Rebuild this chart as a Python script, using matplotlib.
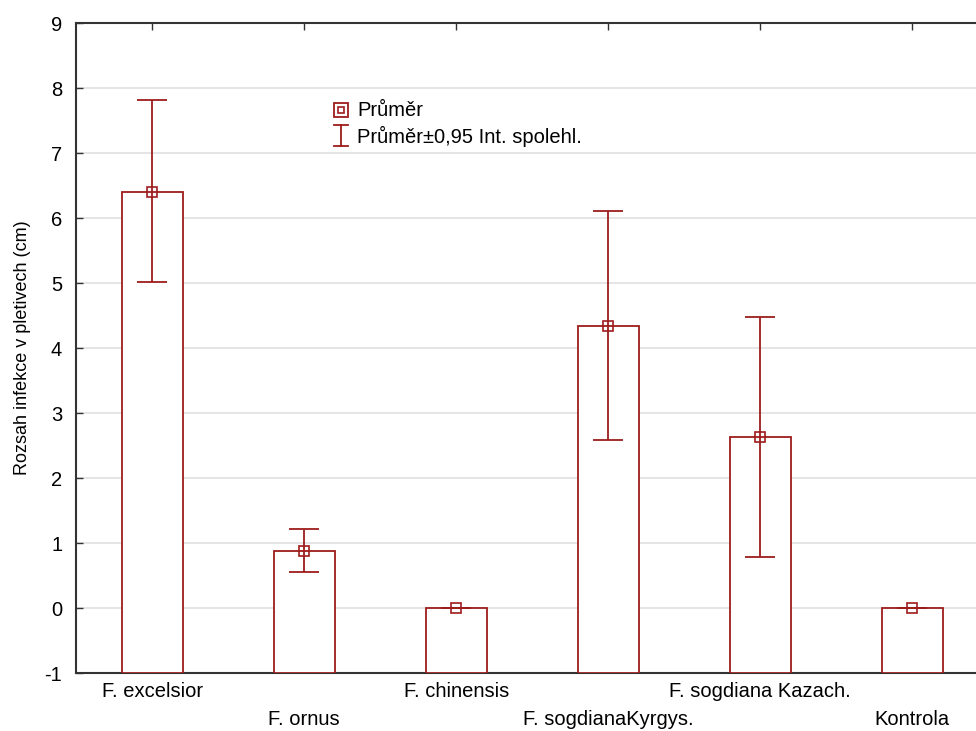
import numpy as np
import matplotlib.pyplot as plt

plt.rcParams['font.family'] = ['Liberation Sans', 'DejaVu Sans']
plt.rcParams['axes.unicode_minus'] = False

labels = ['F. excelsior', 'F. ornus', 'F. chinensis', 'F. sogdianaKyrgys.',
          'F. sogdiana Kazach.', 'Kontrola']
means = [6.40, 0.88, 0.0, 4.34, 2.63, 0.0]
ci_low = [5.02, 0.56, 0.0, 2.59, 0.79, 0.0]
ci_high = [7.82, 1.22, 0.0, 6.11, 4.48, 0.0]

red = '#9e1c1c'
x = np.arange(len(labels))
means = np.array(means)
yerr = [means - np.array(ci_low), np.array(ci_high) - means]

fig = plt.figure(figsize=(9.76, 7.31), dpi=100)
ax = fig.add_axes([0.078, 0.079, 0.922, 0.8895])

# bars are drawn up from the bottom of the axis (-1)
ax.bar(x, means + 1, width=0.4, bottom=-1, color='white', edgecolor=red,
       linewidth=1.3, zorder=3)
ax.plot(x, means, 's', color=red, mfc='none', ms=6.5, mew=1.2, zorder=5)
ax.errorbar(x, means, yerr=yerr, fmt='none', ecolor=red, elinewidth=1.3,
            capsize=11, capthick=1.3, zorder=4)

ax.set_xlim(-0.5, 5.42)
ax.set_ylim(-1, 9)
ax.set_yticks(range(-1, 10))
ax.yaxis.grid(True, color='#e0e0e0', linewidth=1.2, zorder=0)
ax.set_axisbelow(True)

ax.set_xticks(x)
ax.set_xticklabels([])
for i, lab in enumerate(labels):
    ax.text(x[i], -1.14 if i % 2 == 0 else -1.56, lab, ha='center', va='top',
            fontsize=14.5, clip_on=False)

ax.tick_params(direction='in', length=5, width=1, colors='#333333', labelsize=14.5,
               top=True, labelcolor='black')
ax.tick_params(axis='y', pad=10)
for s in ['left', 'bottom', 'top']:
    ax.spines[s].set_color('#333333')
    ax.spines[s].set_linewidth(1.5)
ax.spines['right'].set_visible(False)

ax.set_ylabel('Rozsah infekce v pletivech (cm)', fontsize=13, labelpad=10)

# legend: mean symbol and confidence interval symbol
lx, tx = 0.294, 0.312
y1, y2 = 0.866, 0.827
ax.plot([lx], [y1], 's', ms=9.5, mfc='none', mec=red, mew=1.3,
        transform=ax.transAxes, clip_on=False)
ax.plot([lx], [y1], 's', ms=4.5, mfc='none', mec=red, mew=1.2,
        transform=ax.transAxes, clip_on=False)
ax.plot([lx, lx], [y2 + 0.016, y2 - 0.016], color=red, lw=1.3,
        transform=ax.transAxes, clip_on=False)
for yy in (y2 + 0.016, y2 - 0.016):
    ax.plot([lx - 0.0078, lx + 0.0078], [yy, yy], color=red, lw=1.3,
            transform=ax.transAxes, clip_on=False)
ax.text(tx, y1, 'Průměr', fontsize=14.5, va='center', transform=ax.transAxes)
ax.text(tx, y2 - 0.002, 'Průměr±0,95 Int. spolehl.', fontsize=14.5, va='center',
        transform=ax.transAxes)

fig.savefig('out.png', dpi=100)
